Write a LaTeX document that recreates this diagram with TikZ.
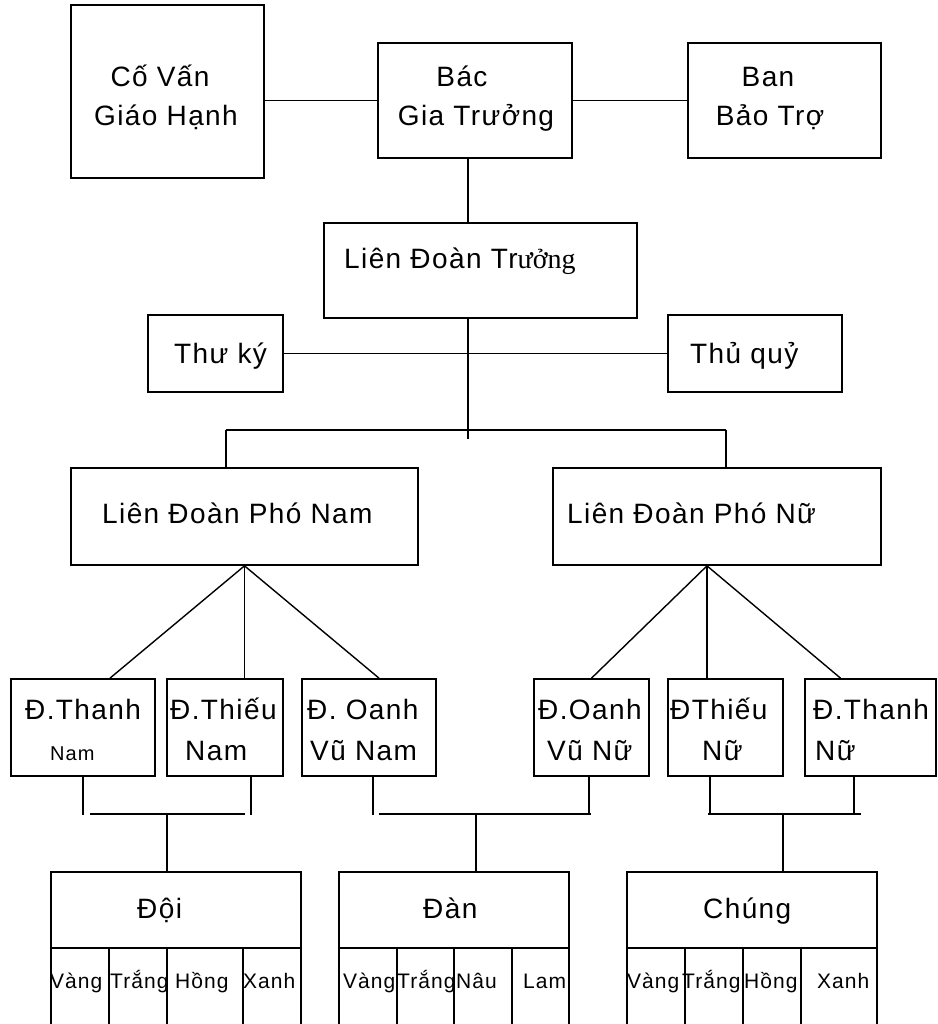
\documentclass[tikz,border=0pt]{standalone}
\usepackage{fontspec}
\setmainfont{Liberation Sans}[LetterSpace=5]
\newfontfamily\seriffont{Liberation Serif}
\usepackage{tikz}

\tikzset{
  khung/.style={draw, line width=1.7pt, inner sep=0pt},
  chu/.style={anchor=base west, inner sep=0pt, font=\fontsize{28}{34}\selectfont},
  chugiua/.style={chu, anchor=base},
  chunho/.style={chu, font=\fontsize{20}{24}\selectfont},
  chuo/.style={chu, font=\fontsize{21}{25}\selectfont},
  noi/.style={line width=1.4pt}
}

\begin{document}
\begin{tikzpicture}[x=1pt,y=-1pt]
\useasboundingbox (0,0) rectangle (937,1024);

% hang tren
\node[khung, minimum width=193pt, minimum height=173pt] (covan) at (167.5,91.5) {};
\node[khung, minimum width=194pt, minimum height=115pt] (bac) at (475,100.5) {};
\node[khung, minimum width=193pt, minimum height=115pt] (ban) at (784.5,100.5) {};
\node[chugiua] (covan1) at (160,87) {Cố Vấn};
\node[chugiua] (covan2) at (166,126) {Giáo Hạnh};
\node[chugiua] (bac1) at (462,87) {Bác};
\node[chugiua] (bac2) at (476,126) {Gia Trưởng};
\node[chugiua] (ban1) at (768,87) {Ban};
\node[chugiua] (ban2) at (770,126) {Bảo Trợ};

\draw[noi] (bac.west) -- (bac.west -| covan.east);
\draw[noi] (bac.east) -- (ban.west);

% lien doan truong
\node[khung, minimum width=313pt, minimum height=95pt] (ldt) at (480.5,270.5) {};
\node[chu] (ldt1) at (344,268) {Liên Đoàn Tr{\seriffont ưởng}};
\node[khung, minimum width=135pt, minimum height=77pt] (thuky) at (215.5,353.5) {};
\node[khung, minimum width=174pt, minimum height=77pt] (thuquy) at (755,353.5) {};
\node[chu] (thuky1) at (174,363) {Thư ký};
\node[chu] (thuquy1) at (690,363) {Thủ quỷ};

\coordinate (truc) at (468,439);
\draw[noi] (bac.south -| truc) -- (ldt.north -| truc);
\draw[noi] (ldt.south -| truc) -- (truc);
\draw[noi] (thuky.east) -- (thuquy.west);

% lien doan pho
\node[khung, minimum width=347pt, minimum height=97pt] (phonam) at (244.5,516.5) {};
\node[khung, minimum width=328pt, minimum height=97pt] (phonu) at (717,516.5) {};
\node[chu] (phonam1) at (102,523) {Liên Đoàn Phó Nam};
\node[chu] (phonu1) at (567,523) {Liên Đoàn Phó Nữ};

\coordinate (ngangL) at (226,430);
\coordinate (ngangR) at (726,430);
\draw[noi] (ngangL) -- (ngangR);
\draw[noi] (ngangL) -- (ngangL |- phonam.north);
\draw[noi] (ngangR) -- (ngangR |- phonu.north);

% cac doan
\node[khung, minimum width=144pt, minimum height=97pt] (thanhnam) at (83,727.5) {};
\node[khung, minimum width=116pt, minimum height=97pt] (thieunam) at (225,727.5) {};
\node[khung, minimum width=134pt, minimum height=97pt] (oanhnam) at (369,727.5) {};
\node[khung, minimum width=115pt, minimum height=97pt] (oanhnu) at (591.5,727.5) {};
\node[khung, minimum width=115pt, minimum height=97pt] (thieunu) at (725.5,727.5) {};
\node[khung, minimum width=131pt, minimum height=97pt] (thanhnu) at (870.5,727.5) {};

\node[chu] (thanhnam1) at (25,719) {Đ.Thanh};
\node[chunho] (thanhnam2) at (50,760) {Nam};
\node[chu] (thieunam1) at (170,719) {Đ.Thiếu};
\node[chu] (thieunam2) at (185,760) {Nam};
\node[chu] (oanhnam1) at (307,719) {Đ. Oanh};
\node[chu] (oanhnam2) at (310,760) {Vũ Nam};
\node[chu] (oanhnu1) at (538,719) {Đ.Oanh};
\node[chu] (oanhnu2) at (547,760) {Vũ Nữ};
\node[chu] (thieunu1) at (670,719) {ĐThiếu};
\node[chu] (thieunu2) at (702,760) {Nữ};
\node[chu] (thanhnu1) at (813,719) {Đ.Thanh};
\node[chu] (thanhnu2) at (815,760) {Nữ};

\draw[noi] (phonam.south) -- ([xshift=27pt]thanhnam.north);
\draw[noi] (phonam.south) -- (phonam.south |- thieunam.north);
\draw[noi] (phonam.south) -- ([xshift=10pt]oanhnam.north);
\coordinate (dinhnu) at ([xshift=-10pt]phonu.south);
\draw[noi] (dinhnu) -- (oanhnu.north);
\draw[noi] (dinhnu) -- (dinhnu |- thieunu.north);
\draw[noi] (dinhnu) -- ([xshift=-30pt]thanhnu.north);

% doi, dan, chung
\node[khung, minimum width=250pt, minimum height=76pt] (doi) at (176,910) {};
\node[khung, minimum width=230pt, minimum height=76pt] (dan) at (454,910) {};
\node[khung, minimum width=250pt, minimum height=76pt] (chung) at (752,910) {};
\node[chu] (doi1) at (137,918) {Đội};
\node[chu] (dan1) at (423,918) {Đàn};
\node[chu] (chung1) at (703,918) {Chúng};

\foreach \x in {51,109,167,243,301,339,397,454,512,569,627,685,743,801,877}
  \draw[line width=1.7pt] (\x,948) -- (\x,1024);

\node[chuo] (doiv) at (50,988) {Vàng};
\node[chuo] (doit) at (110,988) {Trắng};
\node[chuo] (doih) at (175,988) {Hồng};
\node[chuo] (doix) at (243,988) {Xanh};
\node[chuo] (danv) at (343,988) {Vàng};
\node[chuo] (dant) at (397,988) {Trắng};
\node[chuo] (dann) at (456,988) {Nâu};
\node[chuo] (danl) at (523,988) {Lam};
\node[chuo] (chungv) at (627,988) {Vàng};
\node[chuo] (chungt) at (682,988) {Trắng};
\node[chuo] (chungh) at (744,988) {Hồng};
\node[chuo] (chungx) at (817,988) {Xanh};

\coordinate (nut1) at (167,814);
\coordinate (nut2) at (476,814);
\coordinate (nut3) at (783,814);
\draw[noi] (thanhnam.south) -- ++(0,38);
\draw[noi] ([xshift=26pt]thieunam.south) -- ++(0,38);
\draw[noi] ([xshift=-77pt]nut1) -- ([xshift=78pt]nut1);
\draw[noi] (nut1) -- (nut1 |- doi.north);
\draw[noi] ([xshift=4pt]oanhnam.south) -- ++(0,38);
\draw[noi] ([xshift=-2.5pt]oanhnu.south) -- ++(0,38);
\draw[noi] ([xshift=-97pt]nut2) -- ([xshift=115pt]nut2);
\draw[noi] (nut2) -- (nut2 |- dan.north);
\draw[noi] ([xshift=-15.5pt]thieunu.south) -- ++(0,38);
\draw[noi] ([xshift=-16.5pt]thanhnu.south) -- ++(0,38);
\draw[noi] ([xshift=-75pt]nut3) -- ([xshift=78pt]nut3);
\draw[noi] (nut3) -- (nut3 |- chung.north);

\end{tikzpicture}
\end{document}
